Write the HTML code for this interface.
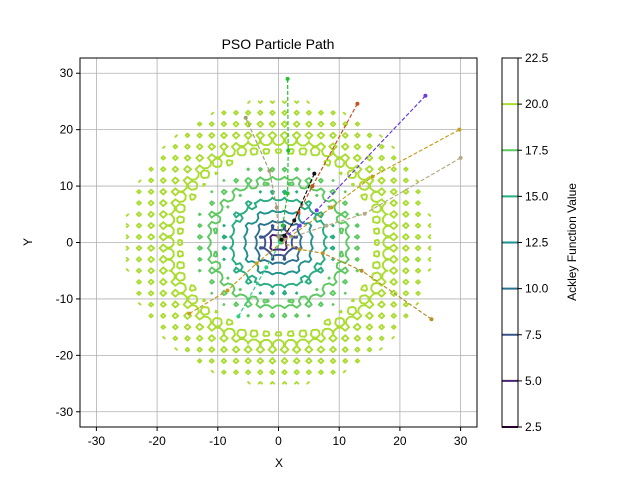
<!DOCTYPE html>
<html><head><meta charset="utf-8"><style>
body{margin:0;background:#fff;}
svg{display:block;font-family:"Liberation Sans",sans-serif;}
</style></head><body>
<svg id="chart" width="640" height="480">
<defs><clipPath id="clip"><rect x="80" y="58" width="397" height="369"/></clipPath></defs>
<rect width="640" height="480" fill="#fff"/>
<text x="278" y="49" text-anchor="middle" font-size="14">PSO Particle Path</text>
<g id="grid"></g>
<g id="contours" clip-path="url(#clip)"></g>
<g id="paths" clip-path="url(#clip)"></g>
<rect x="80" y="58" width="397" height="369" fill="none" stroke="#000" stroke-width="1"/>
<g id="ticks" font-size="12"></g>
<text x="279" y="467" text-anchor="middle" font-size="12">X</text>
<text x="32" y="242" text-anchor="middle" font-size="12" transform="rotate(-90 32 242)">Y</text>
<g id="cbar"></g>
<text x="576" y="242" text-anchor="middle" font-size="12" transform="rotate(-90 576 242)">Ackley Function Value</text>
</svg>
<script>
const levels=[2.5,5,7.5,10,12.5,15,17.5,20];
const levelColors=["#440154","#482475","#3b528b","#2c728e","#21918c","#27ad81","#5ec962","#aadc32"];
const cbarTicks=[2.5,5.0,7.5,10.0,12.5,15.0,17.5,20.0,22.5];
const axisTicks=[-30,-20,-10,0,10,20,30];
const pathColors=["#22c030","#c8501e","#6a3cdc","#c8a020","#b8aa88","#b8902a","#a0a070","#30d080","#111111"];
const pathXs=[[1.5,1.6,1.5,0.7,0.2],[13,5.6,3.3,1],[24.2,6.3,3.5,0.5],[29.8,15.5,8.7,0.5,-3.6,-8.4,-14.7],[30,14.2,7.9,1],[25.2,13.7,7.3,3.5,0.5],[-5.4,-1.5,-0.3,0],[-6.6,-2,0.3],[5.9,2.6,1,0.5]];
const pathYs=[[29,16.3,8.7,3,0.3],[24.6,10,5.3,1],[26,5.7,3,0.5],[20,11.7,6.2,0,-3.7,-8.5,-12.6],[15,5.1,3,0.5],[-13.6,-5,-1.9,-1.2,0],[22.1,12.7,6.2,1],[-13.1,-4.4,0],[12.2,3.9,1.2,0.5]];
const NS="http://www.w3.org/2000/svg";
const X0=80,X1=477,Y0=58,Y1=427,XMIN=-32.7,XMAX=32.7,YMIN=-32.7,YMAX=32.7;
const sx=v=>X0+(v-XMIN)/(XMAX-XMIN)*(X1-X0);
const sy=v=>Y1-(v-YMIN)/(YMAX-YMIN)*(Y1-Y0);
function mk(tag,attrs,parent){const e=document.createElementNS(NS,tag);for(const k in attrs)e.setAttribute(k,attrs[k]);parent.appendChild(e);return e;}
const grid=document.getElementById('grid'),ticks=document.getElementById('ticks');
axisTicks.forEach(t=>{
 const gx=mk('line',{x1:sx(t),x2:sx(t),y1:Y0,y2:Y1,stroke:'#b0b0b0','stroke-width':0.8},grid);
 
 
 const gy=mk('line',{x1:X0,x2:X1,y1:sy(t),y2:sy(t),stroke:'#b0b0b0','stroke-width':0.8},grid);
 
 
 mk('line',{x1:sx(t),x2:sx(t),y1:Y1,y2:Y1+4,stroke:'#000'},ticks);
 mk('line',{x1:X0-4,x2:X0,y1:sy(t),y2:sy(t),stroke:'#000'},ticks);
 const tx=mk('text',{x:sx(t),y:Y1+18,'text-anchor':'middle'},ticks);tx.textContent=t;
 
 
 const ty=mk('text',{x:X0-7,y:sy(t)+4,'text-anchor':'end'},ticks);ty.textContent=t;
 
 
});
function ackley(x,y){return -20*Math.exp(-0.2*Math.sqrt(0.5*(x*x+y*y)))-Math.exp(0.5*(Math.cos(2*Math.PI*x)+Math.cos(2*Math.PI*y)))+Math.E+20;}
const N=76,lo=-25,hi=25,st=(hi-lo)/(N-1),RCUT=25.2;
const F=new Float64Array(N*N);
for(let j=0;j<N;j++)for(let i=0;i<N;i++)F[j*N+i]=ackley(lo+i*st,lo+j*st);
const cg=document.getElementById('contours');
levels.forEach((L,li)=>{
 const d=[];
 for(let j=0;j<N-1;j++){
  for(let i=0;i<N-1;i++){
   const x0=lo+i*st,y0=lo+j*st;
   const xc=x0+st/2,yc=y0+st/2;
   if(Math.sqrt(xc*xc+yc*yc)>RCUT)continue;
   const a=F[j*N+i],b=F[j*N+i+1],c=F[(j+1)*N+i+1],e=F[(j+1)*N+i];
   const pts=[];
   if((a<L)!==(b<L)){const t=(L-a)/(b-a);pts.push([x0+t*st,y0]);}
   if((b<L)!==(c<L)){const t=(L-b)/(c-b);pts.push([x0+st,y0+t*st]);}
   if((e<L)!==(c<L)){const t=(L-e)/(c-e);pts.push([x0+t*st,y0+st]);}
   if((a<L)!==(e<L)){const t=(L-a)/(e-a);pts.push([x0,y0+t*st]);}
   for(let k=0;k+1<pts.length;k+=2)d.push('M'+sx(pts[k][0]).toFixed(1)+' '+sy(pts[k][1]).toFixed(1)+'L'+sx(pts[k+1][0]).toFixed(1)+' '+sy(pts[k+1][1]).toFixed(1));
  }
 }
 const p=mk('path',{d:d.join(''),fill:'none',stroke:levelColors[li],'stroke-width':1.9,'stroke-linecap':'round'},cg);
 
 
});
const pg=document.getElementById('paths');
pathXs.forEach((xs,k)=>{
 const ys=pathYs[k];
 const pts=xs.map((x,i)=>sx(x).toFixed(1)+','+sy(ys[i]).toFixed(1)).join(' ');
 const pl=mk('polyline',{points:pts,fill:'none',stroke:pathColors[k],'stroke-width':1.2,'stroke-dasharray':'4,2'},pg);
 
 
 xs.forEach((x,i)=>{
  const c=mk('circle',{cx:sx(x),cy:sy(ys[i]),r:2,fill:pathColors[k]},pg);
  
  
 });
});
const cb=document.getElementById('cbar');
const CB0=502,CB1=518,cbY=v=>427-(v-2.5)/20*369;
levels.forEach((L,li)=>{
 const l=mk('line',{x1:CB0,x2:CB1,y1:cbY(L),y2:cbY(L),stroke:levelColors[li],'stroke-width':2},cb);
 
 
});
const fr=mk('rect',{x:CB0,y:58,width:CB1-CB0,height:369,fill:'none',stroke:'#000','stroke-width':1},cb);


cbarTicks.forEach(t=>{
 mk('line',{x1:CB1,x2:CB1+4,y1:cbY(t),y2:cbY(t),stroke:'#000'},cb);
 const tt=mk('text',{x:CB1+7,y:cbY(t)+4,'font-size':12},cb);tt.textContent=t.toFixed(1);
 
 
});
</script>
</body></html>
